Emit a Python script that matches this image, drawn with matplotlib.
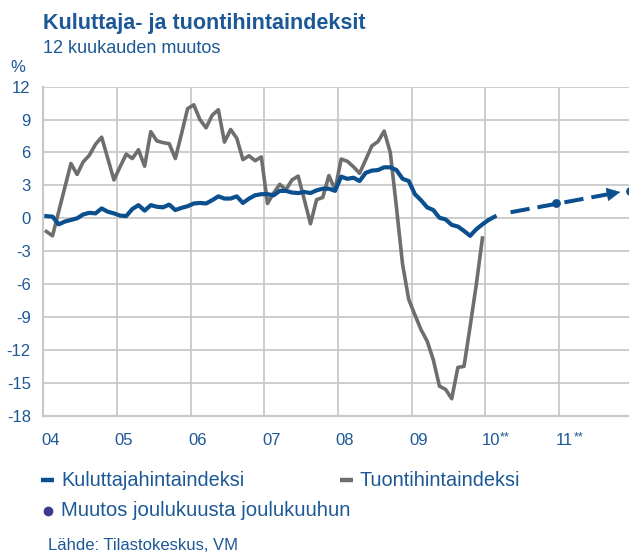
import numpy as np
import matplotlib
matplotlib.use("Agg")
import matplotlib.pyplot as plt
from matplotlib.lines import Line2D

plt.rcParams["axes.unicode_minus"] = False

# ---- data ----
start_year = 2004
cpi = [0.2, 0.15, -0.55, -0.3, -0.15, 0.0, 0.35, 0.5, 0.45, 0.9, 0.6, 0.45,
       0.25, 0.2, 0.85, 1.2, 0.7, 1.2, 1.05, 1.0, 1.25, 0.75, 0.95, 1.1,
       1.35, 1.4, 1.35, 1.65, 2.0, 1.8, 1.8, 2.0, 1.4, 1.8, 2.1, 2.2,
       2.2, 2.1, 2.5, 2.5, 2.35, 2.3, 2.4, 2.3, 2.55, 2.7, 2.7, 2.5,
       3.8, 3.6, 3.7, 3.4, 4.15, 4.35, 4.4, 4.65, 4.65, 4.4, 3.6, 3.4,
       2.2, 1.65, 1.0, 0.75, 0.05, -0.1, -0.6, -0.75, -1.15, -1.6, -1.0, -0.55,
       -0.15, 0.15]
import_prices = [-1.2, -1.6, 0.6, 2.8, 5.0, 4.0, 5.15, 5.75, 6.75, 7.4, 5.45, 3.5,
                 4.7, 5.85, 5.45, 6.25, 4.75, 7.9, 7.05, 6.9, 6.8, 5.45, 7.7, 10.0,
                 10.35, 9.0, 8.25, 9.4, 9.9, 6.95, 8.1, 7.3, 5.35, 5.7, 5.25, 5.6,
                 1.35, 2.3, 3.1, 2.6, 3.5, 3.85, 1.7, -0.5, 1.7, 1.9, 3.9, 2.6,
                 5.4, 5.2, 4.7, 4.1, 5.35, 6.6, 7.0, 7.95, 6.0, 1.0, -4.2, -7.4,
                 -8.8, -10.15, -11.2, -12.9, -15.3, -15.6, -16.45, -13.6, -13.5, -9.85, -6.05, -1.8]
forecast_x = [2010.34, 2011.8]
forecast_y = [0.55, 2.36]
dec_dec_x = [2010.96, 2011.96]
dec_dec_y = [1.4, 2.5]
year_labels = ["04", "05", "06", "07", "08", "09", "10", "11"]
year_marks = ["", "", "", "", "", "", "**", "**"]
y_ticks = [-18, -15, -12, -9, -6, -3, 0, 3, 6, 9, 12]

BLUE = "#0b4f8e"
TXT = "#1d5896"
GREY = "#6e6e6e"
GRID = "#c9c9c9"
REG = ["Liberation Sans", "DejaVu Sans"]

W, H = 629, 557
fig = plt.figure(figsize=(W / 100, H / 100), dpi=100)
x0, x1 = 43.3, 629
ytop, ybot = 86.7, 415.7
ax = fig.add_axes([x0 / W, 1 - ybot / H, (x1 - x0) / W, (ybot - ytop) / H])

def mx(n):
    return [start_year + (i + 0.5) / 12 for i in range(n)]

ax.plot(mx(len(import_prices)), import_prices, color=GREY, lw=2.6,
        solid_joinstyle="round", zorder=3)
ax.plot(mx(len(cpi)), cpi, color=BLUE, lw=3.0, solid_joinstyle="round", zorder=4)

# forecast dashed arrow
ax.plot(forecast_x, forecast_y, color=BLUE, lw=2.9, dashes=(4.8, 2.0), zorder=4)
slope = (forecast_y[1] - forecast_y[0]) / (forecast_x[1] - forecast_x[0])
ax.annotate("", xy=(forecast_x[1] + 0.03, forecast_y[1] + 0.03 * slope),
            xytext=(forecast_x[1] - 0.06, forecast_y[1] - 0.06 * slope),
            arrowprops=dict(arrowstyle="-|>,head_length=0.9,head_width=0.45",
                            color=BLUE, lw=0.5, shrinkA=0, shrinkB=0), zorder=5)
ax.scatter(dec_dec_x, dec_dec_y, s=40, color=BLUE, zorder=5, linewidths=0)

ax.set_xlim(start_year, start_year + (x1 - x0) / 73.7)
ax.set_ylim(-18, 12)
ax.set_yticks(y_ticks)
ax.set_xticks(range(2004, 2012))
ax.grid(True, color=GRID, lw=1.3)
ax.set_axisbelow(True)
for s in ["top", "right"]:
    ax.spines[s].set_visible(False)
for s in ["left", "bottom"]:
    ax.spines[s].set_color(GRID)
    ax.spines[s].set_linewidth(1.6)
ax.tick_params(length=0, labelcolor=TXT, labelsize=12, pad=9)
ax.set_xticklabels([])
for lab in ax.get_yticklabels():
    lab.set_family(REG)

for i, (lab, mk) in enumerate(zip(year_labels, year_marks)):
    yr = 2004 + i
    off = 5 if not mk else 4
    ax.annotate(lab, xy=(yr, 0), xycoords=("data", "axes fraction"),
                xytext=(off, -18), textcoords="offset points",
                ha="center", va="center", color=TXT, fontsize=12, family=REG)
    if mk:
        ax.annotate(mk, xy=(yr, 0), xycoords=("data", "axes fraction"),
                    xytext=(off + 6.2, -15.5), textcoords="offset points",
                    ha="left", va="center", color=TXT, fontsize=9, family=REG)

# titles
fig.text(43 / W, 1 - 29 / H, "Kuluttaja- ja tuontihintaindeksit", color=TXT,
         fontsize=15.5, fontweight="bold", family=REG, va="baseline", ha="left")
fig.text(43 / W, 1 - 53 / H, "12 kuukauden muutos", color=TXT,
         fontsize=13, family=REG, va="baseline", ha="left")
fig.text(18 / W, 1 - 67 / H, "%", color=TXT, fontsize=12, family=REG,
         va="center", ha="center")

# legend
def fx(p):
    return p / W

def fy(p):
    return 1 - p / H

fig.add_artist(Line2D([fx(41), fx(54)], [fy(480), fy(480)], color=BLUE, lw=3.2,
                      solid_capstyle="butt"))
fig.text(fx(61), fy(480), "Kuluttajahintaindeksi", color=TXT, fontsize=14.3,
         family=REG, va="center", ha="left")
fig.add_artist(Line2D([fx(340), fx(353)], [fy(480), fy(480)], color=GREY, lw=3.2,
                      solid_capstyle="butt"))
fig.text(fx(359), fy(480), "Tuontihintaindeksi", color=TXT, fontsize=14.3,
         family=REG, va="center", ha="left")
fig.add_artist(Line2D([fx(48)], [fy(511)], color="#3b3a8e", marker="o",
                      markersize=6, lw=0))
fig.text(fx(61), fy(510), "Muutos joulukuusta joulukuuhun", color=TXT, fontsize=14.6,
         family=REG, va="center", ha="left")
fig.text(fx(48), fy(546), "Lähde: Tilastokeskus, VM", color=TXT, fontsize=12,
         family=REG, va="center", ha="left")

fig.savefig("out.png", dpi=100)
